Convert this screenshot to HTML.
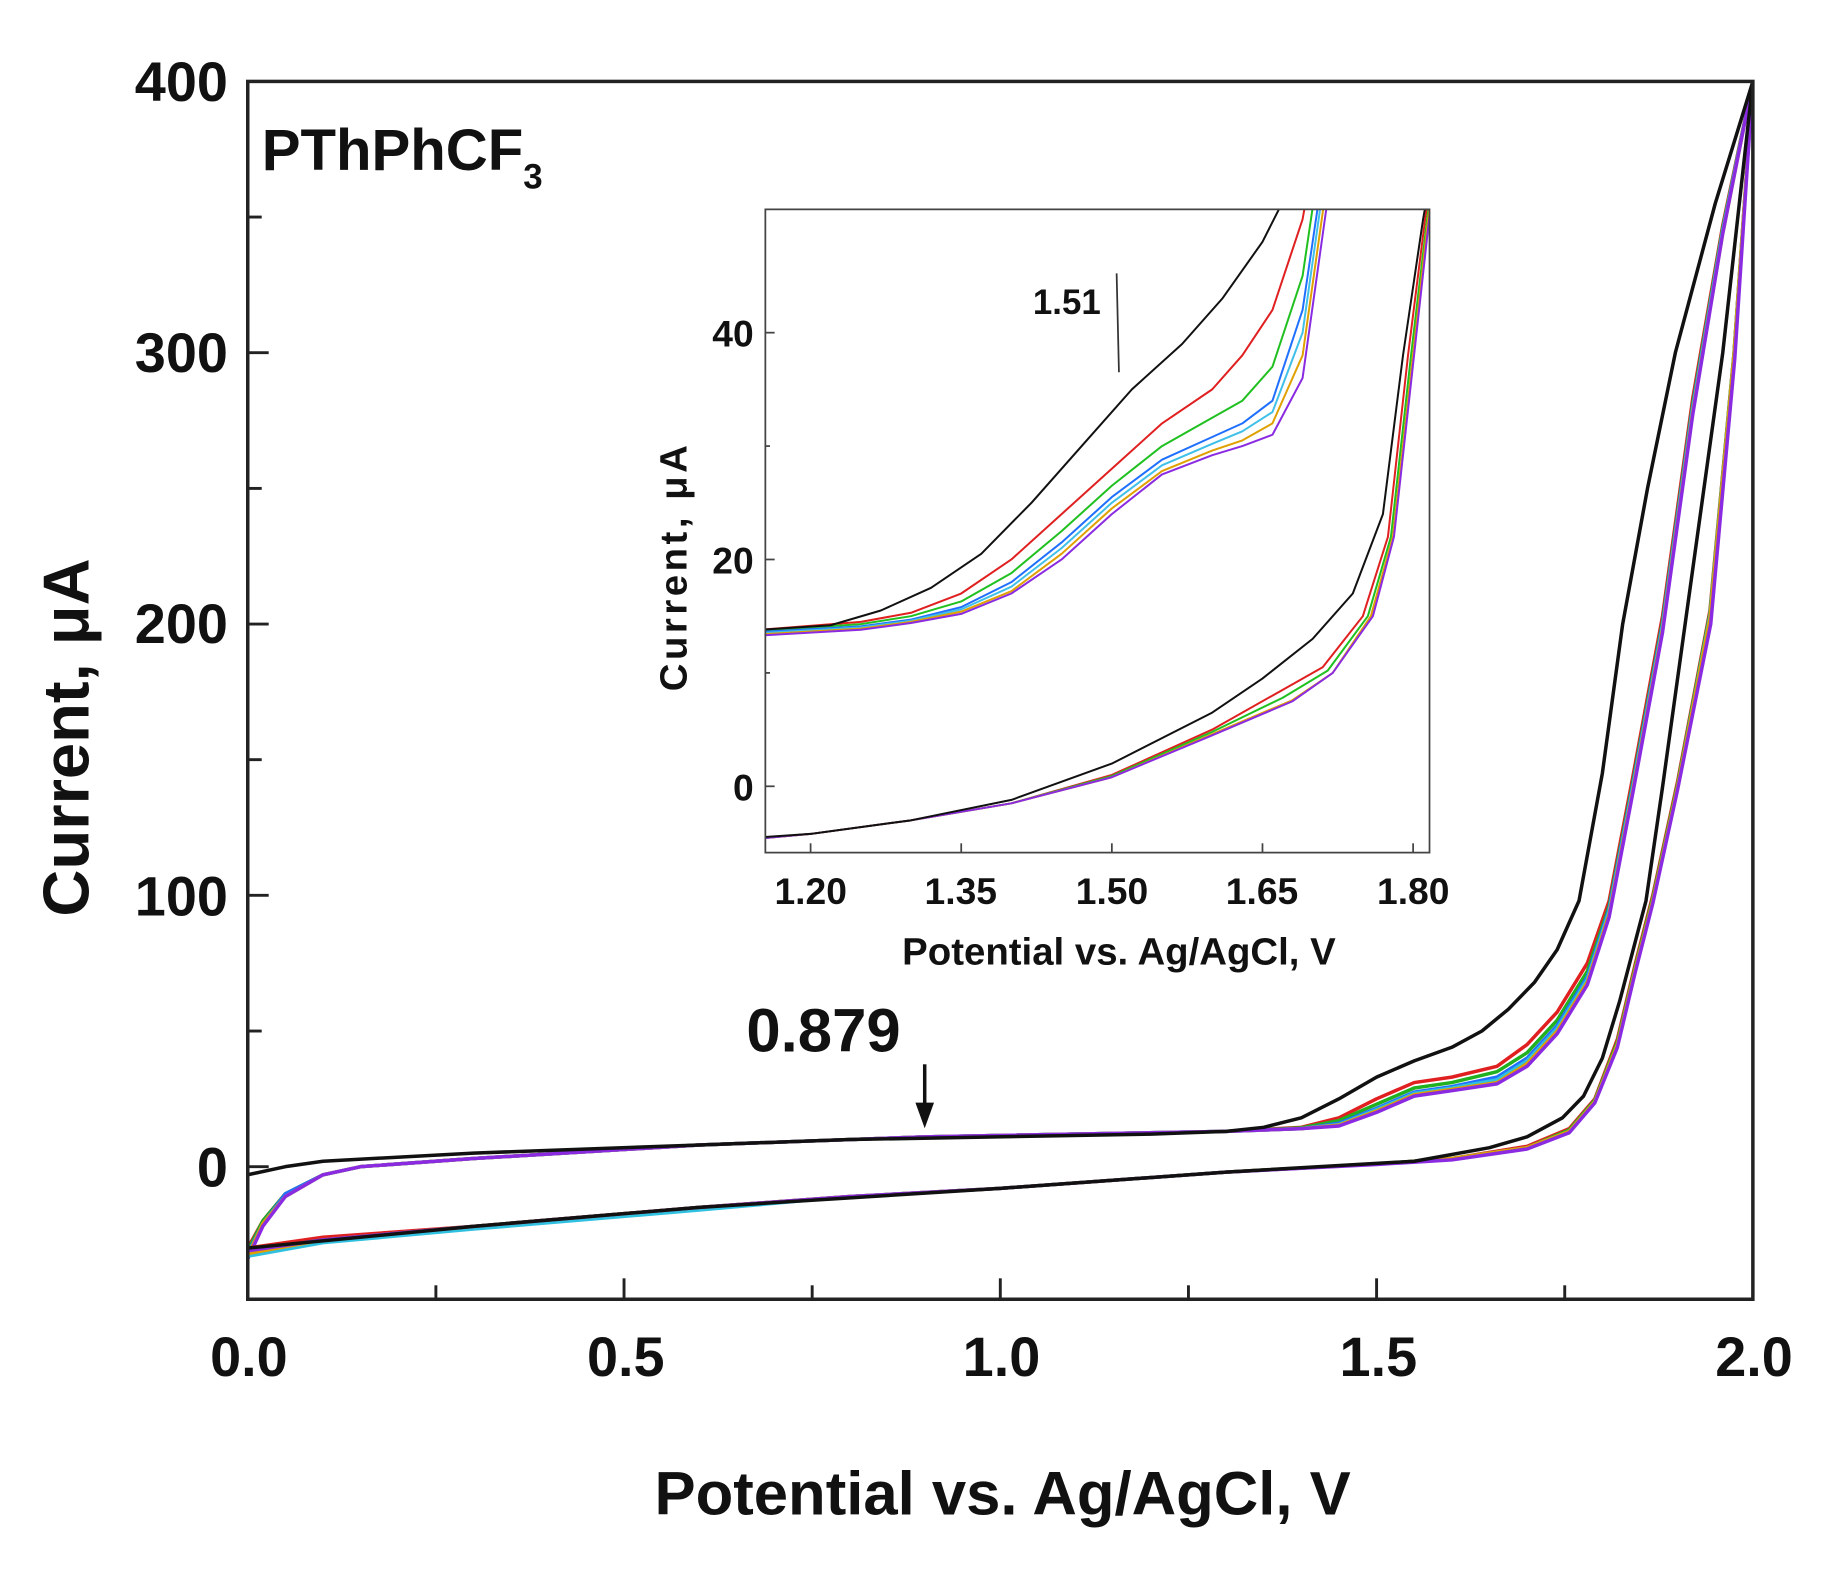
<!DOCTYPE html>
<html><head><meta charset="utf-8"><style>
html,body{margin:0;padding:0;background:#fff}
svg{display:block}
text{font-family:"Liberation Sans",Arial,sans-serif;font-weight:bold;fill:#111}
.m polyline{fill:none;stroke-width:3.5;vector-effect:non-scaling-stroke;stroke-linejoin:round}
.i polyline{fill:none;stroke-width:2;vector-effect:non-scaling-stroke;stroke-linejoin:round}
</style></head><body>
<svg width="1824" height="1571" viewBox="0 0 1560 1343.6" preserveAspectRatio="none" xmlns="http://www.w3.org/2000/svg">
<defs><clipPath id="mc"><rect x="213" y="70" width="1294" height="1047"/></clipPath>
<clipPath id="ic"><rect x="658" y="180" width="571" height="553"/></clipPath></defs>
<rect width="1560" height="1343.6" fill="#fff"/>
<g transform="scale(0.9948)">
<g clip-path="url(#mc)"><g class="m" transform="matrix(647 0 0 -2.3325 213 1003)">
<polyline stroke="#e02020" points="0,-30 0.02,-20 0.05,-10 0.1,-3 0.15,0 0.3,3 0.6,8 0.9,11 1.3,13 1.4,14.5 1.45,18 1.5,25 1.55,31 1.6,33 1.66,37 1.7,45 1.74,57 1.78,75 1.809,98 1.84,143 1.88,203 1.92,283 1.96,347 2.0,400"/>
<polyline stroke="#20b020" points="0,-31 0.02,-20 0.05,-10 0.1,-3 0.15,0 0.3,3 0.6,8 0.9,11 1.3,13 1.4,14.3 1.45,17 1.5,23 1.55,29 1.6,31 1.66,35 1.7,42 1.74,54 1.78,72 1.809,96 1.84,141 1.88,201 1.92,281 1.96,346 2.0,400"/>
<polyline stroke="#2070ff" points="0,-32 0.02,-21 0.05,-10 0.1,-3 0.15,0 0.3,3 0.6,8 0.9,11 1.3,13 1.4,14 1.45,16 1.5,21.5 1.55,27.5 1.6,29.5 1.66,33 1.7,40 1.74,52 1.78,70 1.809,95 1.84,140 1.88,200 1.92,280 1.96,345 2.0,400"/>
<polyline stroke="#30c0e0" points="0,-33 0.02,-21 0.05,-11 0.1,-3 0.15,0 0.3,3 0.6,8 0.9,11 1.3,13 1.4,14 1.45,15.5 1.5,21 1.55,27 1.6,29 1.66,32 1.7,39 1.74,51 1.78,69 1.809,94 1.84,139 1.88,199 1.92,279 1.96,345 2.0,400"/>
<polyline stroke="#e0a000" points="0,-33 0.02,-21 0.05,-11 0.1,-3 0.15,0 0.3,3 0.6,8 0.9,11 1.3,13 1.4,14 1.45,15.3 1.5,20.5 1.55,26.5 1.6,28.5 1.66,31 1.7,38 1.74,50 1.78,68 1.809,93 1.84,138 1.88,198 1.92,278 1.96,344 2.0,400"/>
<polyline stroke="#8a2be2" points="0,-34 0.02,-22 0.05,-11 0.1,-3 0.15,0 0.3,3 0.6,8 0.9,11 1.3,13 1.4,14 1.45,15 1.5,20 1.55,26 1.6,28 1.66,30.5 1.7,37 1.74,49 1.78,67 1.809,92 1.84,137 1.88,197 1.92,277 1.96,344 2.0,400"/>
<polyline stroke="#e02020" points="2.0,400 1.975,300 1.943,205 1.9,142 1.867,100 1.844,75 1.82,47 1.79,25 1.756,14 1.7,7.5 1.6,3 1.5,1 1.3,-2 1.0,-8 0.8,-11 0.6,-15 0.3,-22 0.1,-26 0,-30"/>
<polyline stroke="#20b020" points="2.0,400 1.975,300 1.943,204 1.9,141 1.867,99 1.844,74 1.82,46 1.79,24.5 1.756,13.5 1.7,7 1.6,3 1.5,1 1.3,-2 1.0,-8 0.8,-11 0.6,-15 0.3,-22 0.1,-27 0,-31"/>
<polyline stroke="#30c0e0" points="2.0,400 1.975,299 1.943,203 1.9,140 1.867,98 1.844,73 1.82,45 1.79,24 1.756,13 1.7,7 1.6,3 1.5,1 1.3,-2 1.0,-8 0.8,-11 0.6,-16 0.3,-23 0.1,-28 0,-33"/>
<polyline stroke="#e0a000" points="2.0,400 1.975,299 1.943,202 1.9,140 1.867,98 1.844,73 1.82,45 1.79,24 1.756,13 1.7,7 1.6,3 1.5,1 1.3,-2 1.0,-8 0.8,-11 0.6,-15 0.3,-22 0.1,-27 0,-32"/>
<polyline stroke="#8a2be2" points="2.0,400 1.976,298 1.944,200 1.9,139 1.867,97 1.844,72 1.82,44 1.79,23.5 1.756,12.5 1.7,6.5 1.6,2.5 1.5,0.8 1.3,-2 1.0,-8 0.8,-11 0.6,-15 0.3,-22 0.1,-27 0,-31"/>
<polyline stroke="#111" points="0,-3 0.05,0 0.1,2 0.3,5 0.6,8 0.8,10 1.2,12 1.3,13 1.35,14.5 1.4,18 1.45,25 1.5,33 1.55,39 1.6,44 1.64,50 1.675,58 1.71,68 1.74,80 1.769,98 1.8,145 1.827,200 1.86,250 1.897,300 1.95,355 2.0,400"/>
<polyline stroke="#111" points="2.0,400 1.96,300 1.91,200 1.88,140 1.858,98 1.823,61 1.8,40 1.775,26 1.747,18 1.7,11 1.65,7 1.55,2 1.3,-2 1.0,-8 0.6,-15 0.3,-22 0,-30"/>
</g></g>
<rect x="213" y="70" width="1294" height="1047" fill="none" stroke="#222" stroke-width="3"/>
<g stroke="#222" stroke-width="2.5">
<line x1="374.75" y1="1117" x2="374.75" y2="1105"/><line x1="536.5" y1="1117" x2="536.5" y2="1099"/><line x1="698.25" y1="1117" x2="698.25" y2="1105"/><line x1="860" y1="1117" x2="860" y2="1099"/><line x1="1021.75" y1="1117" x2="1021.75" y2="1105"/><line x1="1183.5" y1="1117" x2="1183.5" y2="1099"/><line x1="1345.25" y1="1117" x2="1345.25" y2="1105"/>
<line x1="213" y1="1003" x2="231" y2="1003"/><line x1="213" y1="886.4" x2="225" y2="886.4"/><line x1="213" y1="769.75" x2="231" y2="769.75"/><line x1="213" y1="653.1" x2="225" y2="653.1"/><line x1="213" y1="536.5" x2="231" y2="536.5"/><line x1="213" y1="419.9" x2="225" y2="419.9"/><line x1="213" y1="303.25" x2="231" y2="303.25"/><line x1="213" y1="186.6" x2="225" y2="186.6"/>
</g>
<g font-size="48" text-anchor="end">
<text x="196" y="87">400</text><text x="196" y="320">300</text><text x="196" y="553">200</text><text x="196" y="787">100</text><text x="196" y="1020">0</text>
</g>
<g font-size="48" text-anchor="middle">
<text x="214" y="1183">0.0</text><text x="538" y="1183">0.5</text><text x="861" y="1183">1.0</text><text x="1185" y="1183">1.5</text><text x="1508" y="1183">2.0</text>
</g>
<text x="862" y="1302" font-size="53" text-anchor="middle">Potential vs. Ag/AgCl, V</text>
<text transform="translate(76,634) rotate(-90)" font-size="56" text-anchor="middle">Current, μA</text>
<text x="225" y="146" font-size="50">PThPhCF<tspan font-size="30" dy="16">3</tspan></text>
<text x="708" y="904" font-size="53" text-anchor="middle">0.879</text>
<line x1="795" y1="915" x2="795" y2="955" stroke="#111" stroke-width="3"/>
<polygon points="787,948 803,948 795,970" fill="#111"/>
<rect x="658" y="180" width="571" height="553" fill="#fff"/>
<g clip-path="url(#ic)"><g class="i" transform="matrix(863.3 0 0 -9.75 -339.1 676)">
<polyline stroke="#e02020" points="1.15,13.8 1.25,14.5 1.3,15.3 1.35,17 1.4,20 1.45,24 1.5,28 1.55,32 1.6,35 1.63,38 1.66,42 1.69,50 1.71,60"/>
<polyline stroke="#20c020" points="1.15,13.7 1.25,14.3 1.3,15 1.35,16.3 1.4,18.8 1.45,22.5 1.5,26.5 1.55,30 1.6,32.5 1.63,34 1.66,37 1.69,45 1.715,60"/>
<polyline stroke="#2070ff" points="1.15,13.6 1.25,14.1 1.3,14.7 1.35,15.8 1.4,18 1.45,21.5 1.5,25.5 1.55,28.8 1.6,30.8 1.63,32 1.66,34 1.69,42 1.72,60"/>
<polyline stroke="#40c0e8" points="1.15,13.5 1.25,14 1.3,14.6 1.35,15.6 1.4,17.6 1.45,21 1.5,25 1.55,28.3 1.6,30.2 1.63,31.3 1.66,33 1.69,40 1.722,60"/>
<polyline stroke="#e0a000" points="1.15,13.4 1.25,13.9 1.3,14.5 1.35,15.4 1.4,17.2 1.45,20.5 1.5,24.5 1.55,27.8 1.6,29.6 1.63,30.5 1.66,32 1.69,38 1.725,60"/>
<polyline stroke="#8a2be2" points="1.15,13.3 1.25,13.8 1.3,14.4 1.35,15.2 1.4,17 1.45,20 1.5,24 1.55,27.5 1.6,29.2 1.63,30 1.66,31 1.69,36 1.728,60"/>
<polyline stroke="#111" points="1.15,13.8 1.22,14.2 1.27,15.5 1.32,17.5 1.37,20.5 1.42,25 1.47,30 1.52,35 1.57,39 1.61,43 1.65,48 1.69,55 1.72,62"/>
<polyline stroke="#e02020" points="1.83,60 1.812,50 1.795,38 1.775,22 1.75,15 1.71,10.5 1.66,8 1.6,5 1.5,1 1.4,-1.5 1.3,-3 1.2,-4.2 1.15,-4.6"/>
<polyline stroke="#20c020" points="1.83,60 1.814,50 1.798,38 1.778,22 1.755,15 1.715,10.2 1.67,7.8 1.6,4.8 1.5,0.9 1.4,-1.5 1.3,-3 1.2,-4.2 1.15,-4.6"/>
<polyline stroke="#e0a000" points="1.83,60 1.815,50 1.8,38 1.78,22 1.758,15 1.72,10 1.68,7.6 1.6,4.6 1.5,0.8 1.4,-1.5 1.3,-3 1.2,-4.2 1.15,-4.6"/>
<polyline stroke="#8a2be2" points="1.83,60 1.816,50 1.801,38 1.781,22 1.76,15 1.72,10 1.68,7.5 1.6,4.5 1.5,0.8 1.4,-1.5 1.3,-3 1.2,-4.2 1.15,-4.6"/>
<polyline stroke="#111" points="1.83,60 1.81,50 1.79,38 1.77,24 1.74,17 1.7,13 1.65,9.5 1.6,6.5 1.5,2 1.4,-1.2 1.3,-3 1.2,-4.2 1.15,-4.5"/>
</g></g>
<rect x="658" y="180" width="571" height="553" fill="none" stroke="#444" stroke-width="1.5"/>
<g stroke="#444" stroke-width="1.5">
<line x1="696.9" y1="733" x2="696.9" y2="725"/><line x1="826.4" y1="733" x2="826.4" y2="725"/><line x1="955.9" y1="733" x2="955.9" y2="725"/><line x1="1085.4" y1="733" x2="1085.4" y2="725"/><line x1="1214.9" y1="733" x2="1214.9" y2="725"/>
<line x1="658" y1="676" x2="666" y2="676"/><line x1="658" y1="481" x2="666" y2="481"/><line x1="658" y1="286" x2="666" y2="286"/><line x1="658" y1="578.5" x2="662" y2="578.5"/><line x1="658" y1="383.5" x2="662" y2="383.5"/>
</g>
<g font-size="32" text-anchor="middle">
<text x="697" y="777">1.20</text><text x="826" y="777">1.35</text><text x="956" y="777">1.50</text><text x="1085" y="777">1.65</text><text x="1215" y="777">1.80</text>
</g>
<g font-size="32" text-anchor="end">
<text x="648" y="298">40</text><text x="648" y="493">20</text><text x="648" y="688">0</text>
</g>
<text x="962" y="829" font-size="33" text-anchor="middle">Potential vs. Ag/AgCl, V</text>
<text transform="translate(590,487) rotate(-90)" font-size="33" text-anchor="middle" letter-spacing="3">Current, μA</text>
<text x="888" y="270" font-size="30">1.51</text>
<line x1="960" y1="235" x2="962" y2="320" stroke="#333" stroke-width="1.5"/>
</g>
</svg>
</body></html>
